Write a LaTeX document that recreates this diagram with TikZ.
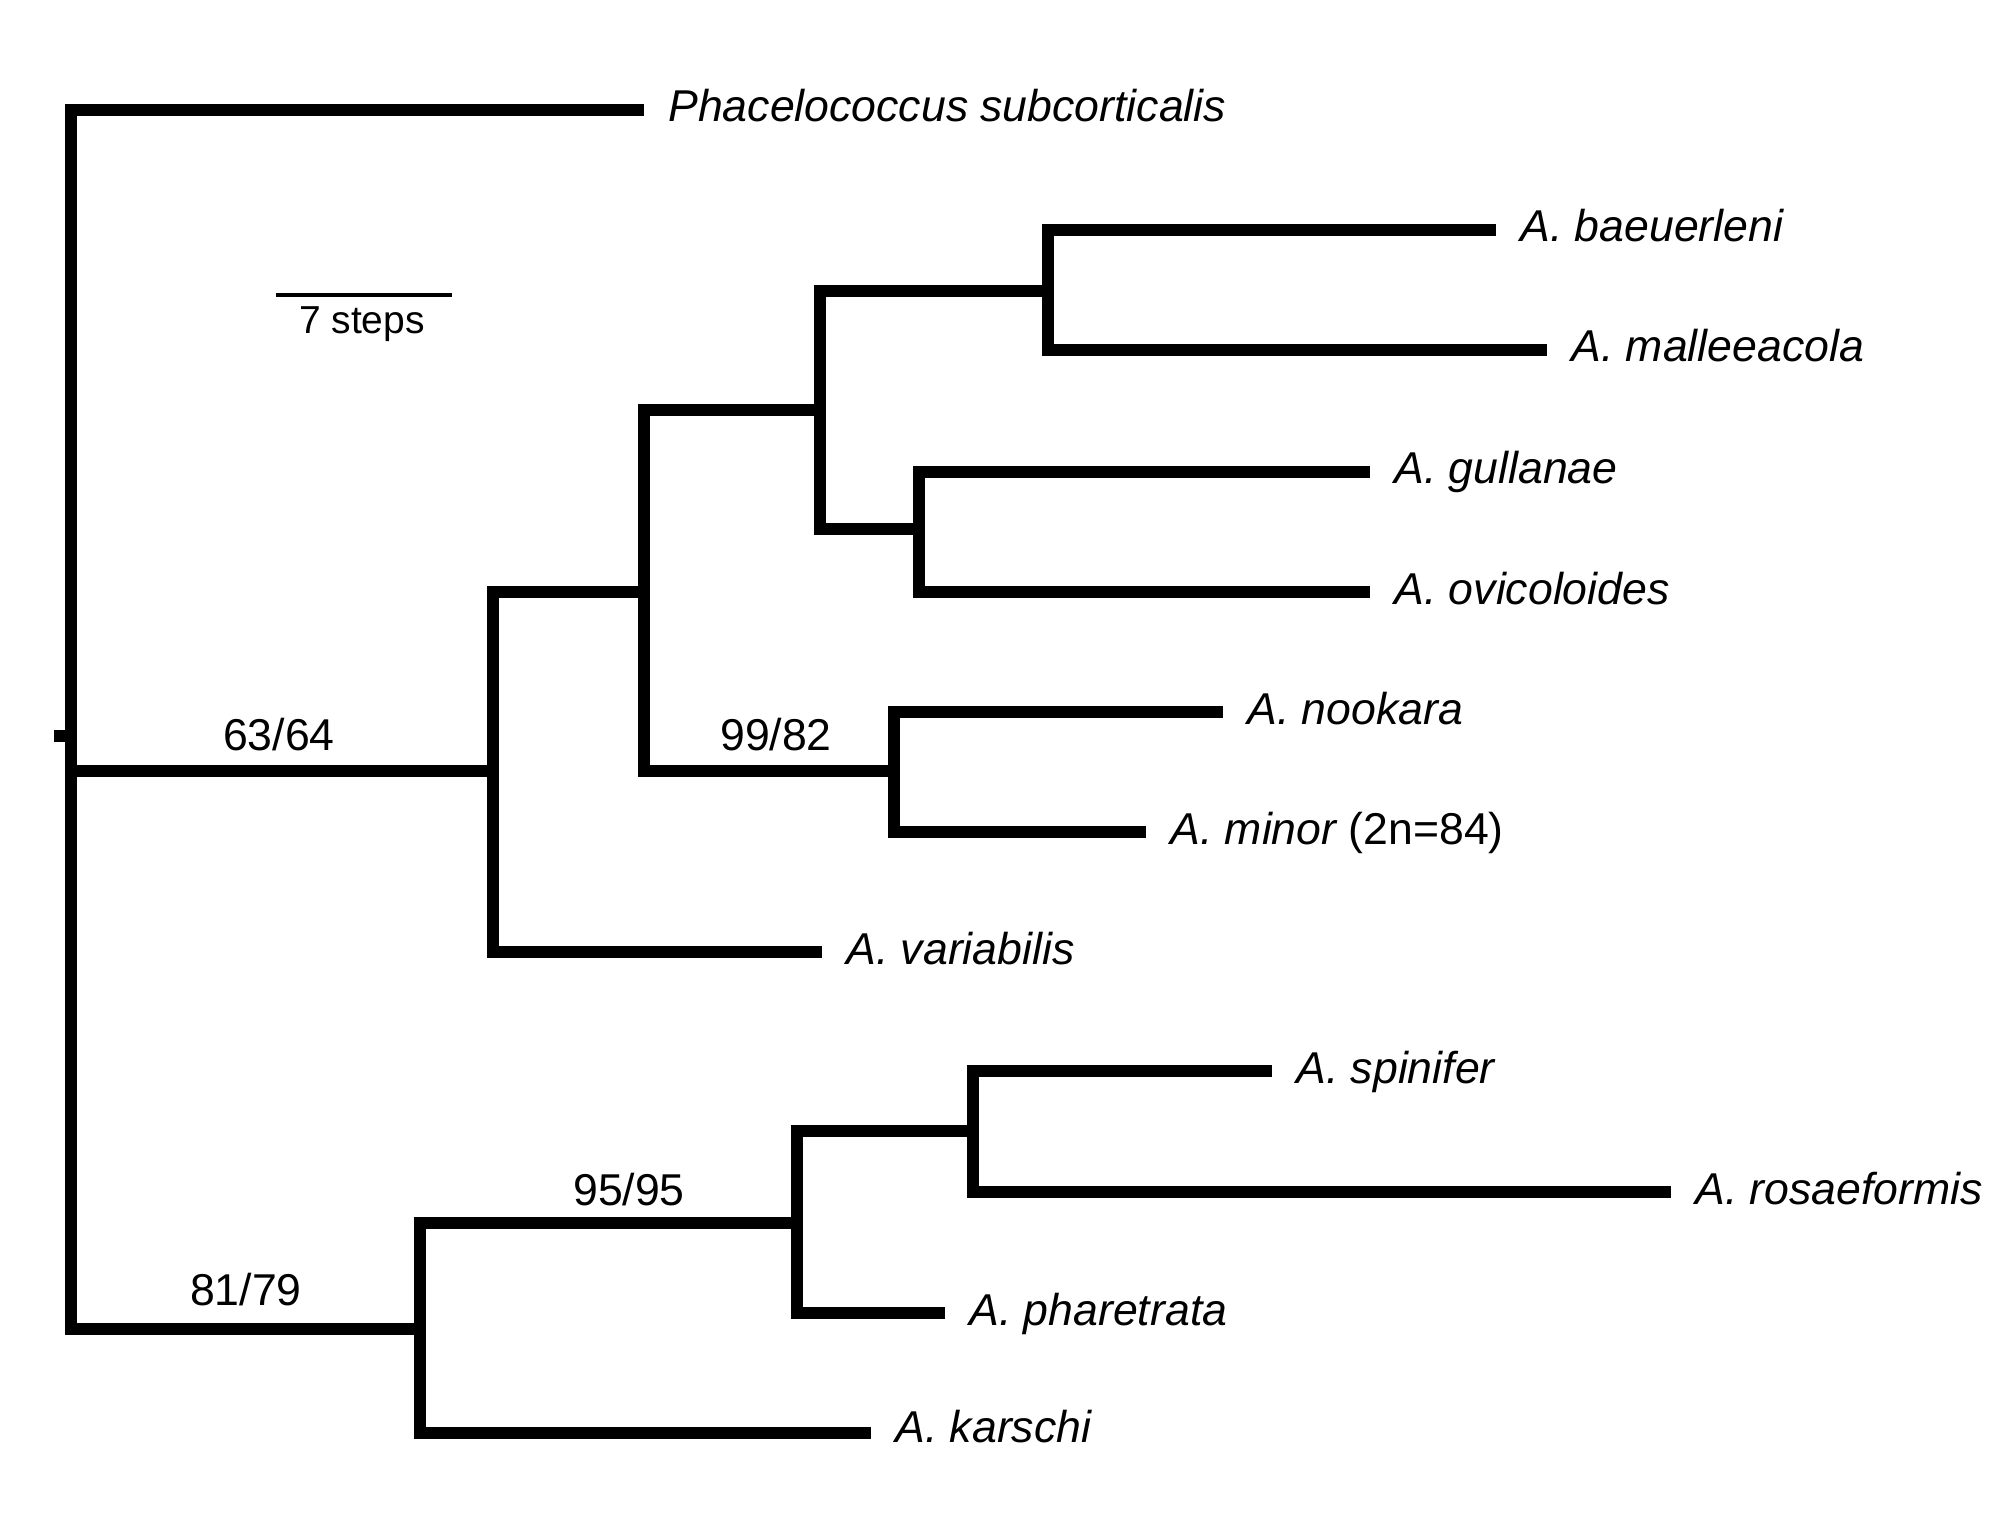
\documentclass[tikz,border=0pt]{standalone}
\usepackage{fontspec}
\setmainfont{Liberation Sans}
\begin{document}
\begin{tikzpicture}[x=0.5pt,y=-0.5pt,
  branch/.style={line width=6.3pt, line cap=butt, line join=miter},
  taxon/.style={font=\fontsize{22.3}{26}\selectfont\itshape, anchor=base west, inner sep=0pt, xshift=12pt, yshift=-6pt},
  support/.style={font=\fontsize{22.3}{26}\selectfont, anchor=base, inner sep=0pt}]
\useasboundingbox (0,0) rectangle (2008,1524);
% internal nodes and branch ends
\coordinate (stub) at (54,736);
\coordinate (root) at (71,736);
\coordinate (phac) at (644,110);
\coordinate (nA) at (493,771);
\coordinate (nA1) at (644,592);
\coordinate (nA2) at (820,410);
\coordinate (nA3) at (1048,291);
\coordinate (baeu) at (1496,230);
\coordinate (mall) at (1547,350);
\coordinate (nA4) at (919,529);
\coordinate (gull) at (1370,472);
\coordinate (ovic) at (1370,592);
\coordinate (nA5) at (894,771);
\coordinate (nook) at (1223,712);
\coordinate (mino) at (1146,832);
\coordinate (vari) at (822,952);
\coordinate (nB) at (420,1329);
\coordinate (nB1) at (797,1223);
\coordinate (nB2) at (973,1131);
\coordinate (spin) at (1272,1071);
\coordinate (rosa) at (1671,1192);
\coordinate (phar) at (945,1313);
\coordinate (kars) at (871,1433);
% branches
\draw[branch] (stub) -- (root);
\draw[branch] (root) |- (phac);
\draw[branch] (root) |- (nA);
\draw[branch] (root) |- (nB);
\draw[branch] (nA) |- (nA1);
\draw[branch] (nA) |- (vari);
\draw[branch] (nA1) |- (nA2);
\draw[branch] (nA1) |- (nA5);
\draw[branch] (nA2) |- (nA3);
\draw[branch] (nA2) |- (nA4);
\draw[branch] (nA3) |- (baeu);
\draw[branch] (nA3) |- (mall);
\draw[branch] (nA4) |- (gull);
\draw[branch] (nA4) |- (ovic);
\draw[branch] (nA5) |- (nook);
\draw[branch] (nA5) |- (mino);
\draw[branch] (nB) |- (nB1);
\draw[branch] (nB) |- (kars);
\draw[branch] (nB1) |- (nB2);
\draw[branch] (nB1) |- (phar);
\draw[branch] (nB2) |- (spin);
\draw[branch] (nB2) |- (rosa);
% taxon labels
\node[taxon] (phacL) at (phac) {Phacelococcus subcorticalis};
\node[taxon] (baeuL) at (baeu) {A. baeuerleni};
\node[taxon] (mallL) at (mall) {A. malleeacola};
\node[taxon] (gullL) at (gull) {A. gullanae};
\node[taxon] (ovicL) at (ovic) {A. ovicoloides};
\node[taxon] (nookL) at (nook) {A. nookara};
\node[taxon] (minoL) at (mino) {A. minor \upshape(2n=84)};
\node[taxon] (variL) at (vari) {A. variabilis};
\node[taxon] (spinL) at (spin) {A. spinifer};
\node[taxon] (rosaL) at (rosa) {A. rosaeformis};
\node[taxon] (pharL) at (phar) {A. pharetrata};
\node[taxon, yshift=1.5pt] (karsL) at (kars) {A. karschi};
% support values
\node[support] (s1) at (279,750) {63/64};
\node[support] (s2) at (776,750) {99/82};
\node[support] (s3) at (629,1205) {95/95};
\node[support] (s4) at (246,1305) {81/79};
% scale bar
\coordinate (sbL) at (276,295);
\coordinate (sbR) at (452,295);
\draw[line width=2pt] (sbL) -- (sbR);
\node[font=\fontsize{19.5}{22}\selectfont, anchor=base, inner sep=0pt] (sbT) at (362,334) {7 steps};
\end{tikzpicture}
\end{document}
